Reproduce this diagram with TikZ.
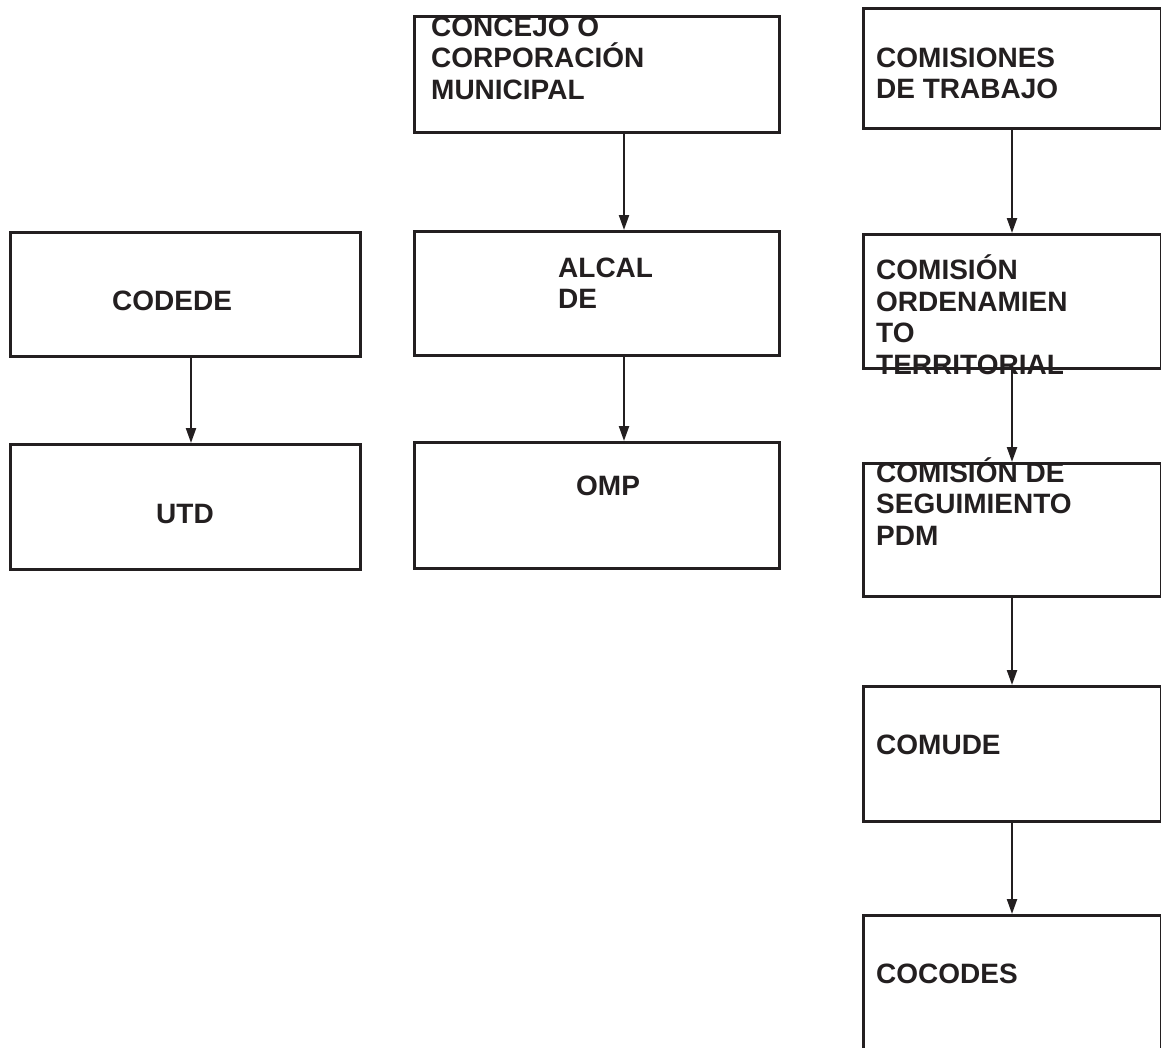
\documentclass[tikz,border=0pt]{standalone}
\usepackage{fontspec}
\setmainfont{Liberation Sans}
\usetikzlibrary{arrows.meta}
\definecolor{ink}{HTML}{231F20}
\begin{document}
\begin{tikzpicture}[x=1pt,y=-1pt,
  box/.style={draw=ink, line width=2.6pt, rectangle, anchor=north west, inner sep=0pt},
  lbl/.style={anchor=base west, inner sep=0pt, align=left, text=ink,
    font=\fontsize{28}{31.5}\selectfont\bfseries},
  arr/.style={draw=ink, line width=2.2pt, -{Triangle[length=15pt,width=10pt]}}]
\useasboundingbox (0,0) rectangle (1161,1047);
% left column
\node[box, minimum width=350pt, minimum height=124pt] (codede) at (9,231) {};
\node[box, minimum width=350pt, minimum height=125pt] (utd) at (9,443) {};
% middle column
\node[box, minimum width=365pt, minimum height=116pt] (concejo) at (413,15) {};
\node[box, minimum width=365pt, minimum height=124pt] (alcalde) at (413,230) {};
\node[box, minimum width=365pt, minimum height=126pt] (omp) at (413,441) {};
% right column
\node[box, minimum width=298pt, minimum height=120pt] (comisiones) at (862,7) {};
\node[box, minimum width=298pt, minimum height=134pt] (ordena) at (862,233) {};
\node[box, minimum width=298pt, minimum height=133pt] (seguim) at (862,462) {};
\node[box, minimum width=298pt, minimum height=135pt] (comude) at (862,685) {};
\node[box, minimum width=298pt, minimum height=160pt] (cocodes) at (862,914) {};
% labels (anchor = baseline of the last line)
\node[lbl] (tcodede) at (112,310) {CODEDE};
\node[lbl] (tutd) at (156,523) {UTD};
\node[lbl] (tconcejo) at (431,99) {CONCEJO O\\CORPORACIÓN\\MUNICIPAL};
\node[lbl] (talcalde) at (558,308.5) {ALCAL\\DE};
\node[lbl] (tomp) at (576,495) {OMP};
\node[lbl] (tcomisiones) at (876,98.5) {COMISIONES\\DE TRABAJO};
\node[lbl] (tordena) at (876,374) {COMISIÓN\\ORDENAMIEN\\TO\\TERRITORIAL};
\node[lbl] (tseguim) at (876,545) {COMISIÓN DE\\SEGUIMIENTO\\PDM};
\node[lbl] (tcomude) at (876,754) {COMUDE};
\node[lbl] (tcocodes) at (876,983) {COCODES};
% connector columns
\coordinate (xl) at (191,0);
\coordinate (xm) at (624,0);
\coordinate (xr) at (1012,0);
\draw[arr] (codede.south -| xl) -- (utd.north -| xl);
\draw[arr] (concejo.south -| xm) -- (alcalde.north -| xm);
\draw[arr] (alcalde.south -| xm) -- (omp.north -| xm);
\draw[arr] (comisiones.south -| xr) -- (ordena.north -| xr);
\draw[arr] (ordena.south -| xr) -- (seguim.north -| xr);
\draw[arr] (seguim.south -| xr) -- (comude.north -| xr);
\draw[arr] (comude.south -| xr) -- (cocodes.north -| xr);
\end{tikzpicture}
\end{document}
